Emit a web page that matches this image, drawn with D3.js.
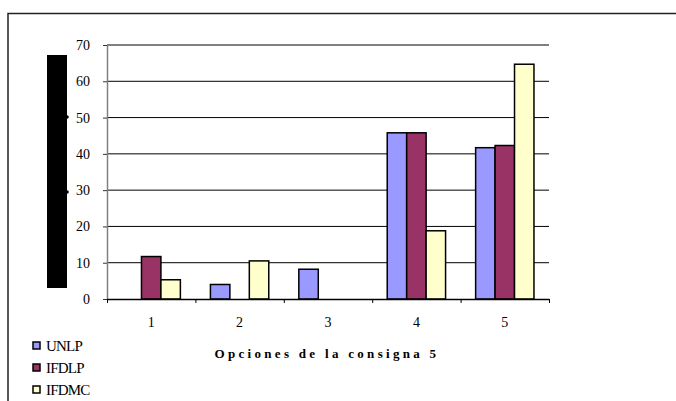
<!DOCTYPE html>
<html>
<head>
<meta charset="utf-8">
<script src="https://cdn.jsdelivr.net/npm/d3@7"></script>
<style>
  body { margin: 0; background: #fff; }
  svg { display: block; }
  svg text { font-family: "Liberation Serif", "Times New Roman", serif; }
</style>
</head>
<body>
<svg></svg>
<script>
const categories = ["1", "2", "3", "4", "5"];
const series = ["UNLP", "IFDLP", "IFDMC"];
const colors = ["#9999ff", "#993366", "#ffffcc"];
const unlp = [0, 4, 8.2, 45.8, 41.7];
const ifdlp = [11.7, 0, 0, 45.8, 42.3];
const ifdmc = [5.3, 10.5, 0, 18.8, 64.7];
const yTicks = [0, 10, 20, 30, 40, 50, 60, 70];
const xTitle = "Opciones de la consigna 5";

const width = 676;
const height = 401;
const plotLeft = 107, plotRight = 549, plotTop = 45, plotBottom = 299;
const serif = '"Liberation Serif", "Times New Roman", serif';

let svg = d3.select("svg").attr("width", width).attr("height", height);

// outer frame (only left + top visible, the rest runs off the picture)
svg.append("rect")
  .attr("x", 8).attr("y", 13.5)
  .attr("width", 700).attr("height", 420)
  .attr("fill", "none").attr("stroke", "#222").attr("stroke-width", 1.5);

// black block where the y title sits
svg.append("rect")
  .attr("x", 47).attr("y", 55).attr("width", 20).attr("height", 233)
  .attr("fill", "#000");
svg.append("circle").attr("cx", 67).attr("cy", 117).attr("r", 1.8).attr("fill", "#000");
svg.append("circle").attr("cx", 67).attr("cy", 192).attr("r", 1.8).attr("fill", "#000");

const y = d3.scaleLinear().domain([0, 70]).range([plotBottom, plotTop]);
const x = d3.scaleBand().domain(categories).range([plotLeft, plotRight])
  .paddingInner(0.34).paddingOuter(0.17);
const xSub = d3.scaleBand().domain(series).range([0, x.bandwidth()]);
const xEdge = d3.scaleLinear().domain([0, categories.length]).range([plotLeft, plotRight]);

// gridlines
svg.append("g")
  .selectAll("line")
  .data(yTicks.filter((d) => d > 0))
  .enter()
  .append("line")
  .attr("x1", plotLeft).attr("x2", plotRight)
  .attr("y1", (d) => y(d)).attr("y2", (d) => y(d))
  .attr("stroke", "#000").attr("stroke-width", 1);

// y axis
let yAxis = svg.append("g")
  .attr("transform", "translate(" + plotLeft + ",0)")
  .call(d3.axisLeft(y).tickValues(yTicks).tickSize(4).tickPadding(13).tickSizeOuter(0))
  .attr("font-family", serif)
  .attr("font-size", 14);
yAxis.select(".domain").attr("stroke", "#808080").attr("stroke-width", 1.5);
yAxis.selectAll(".tick line").attr("stroke", "#333");
yAxis.selectAll("text").attr("fill", "#000");

// bars
const values = [unlp, ifdlp, ifdmc];
let groups = svg.append("g")
  .selectAll("g")
  .data(categories)
  .enter()
  .append("g")
  .attr("transform", (d) => "translate(" + x(d) + ",0)");

groups.selectAll("rect")
  .data((d, i) => series.map((s, j) => ({ s: s, j: j, v: values[j][i] })).filter((e) => e.v > 0))
  .enter()
  .append("rect")
  .attr("x", (d) => xSub(d.s))
  .attr("width", xSub.bandwidth())
  .attr("y", (d) => y(d.v))
  .attr("height", (d) => y(0) - y(d.v))
  .attr("fill", (d) => colors[d.j])
  .attr("stroke", "#000")
  .attr("stroke-width", 1.5);

// x axis: boundary ticks
let xAxis = svg.append("g")
  .attr("transform", "translate(0," + plotBottom + ")")
  .call(d3.axisBottom(xEdge).ticks(categories.length).tickSize(4).tickSizeOuter(0).tickFormat(""));
xAxis.select(".domain").attr("stroke", "#000").attr("stroke-width", 1.5);
xAxis.selectAll(".tick line").attr("stroke", "#000");

// x labels
let xLab = svg.append("g")
  .attr("transform", "translate(0," + plotBottom + ")")
  .call(d3.axisBottom(x).tickSize(0).tickPadding(18))
  .attr("font-family", serif)
  .attr("font-size", 14);
xLab.select(".domain").remove();
xLab.selectAll("text").attr("fill", "#000");

// x title
svg.append("text")
  .attr("x", 327).attr("y", 358)
  .attr("text-anchor", "middle")
  .attr("font-size", 13).attr("font-weight", "bold")
  .attr("letter-spacing", 3.3)
  .text(xTitle);

// legend
let legend = svg.append("g")
  .selectAll("g")
  .data(series)
  .enter()
  .append("g")
  .attr("transform", (d, i) => "translate(33," + (342 + i * 22) + ")");
legend.append("rect")
  .attr("width", 7).attr("height", 7)
  .attr("fill", (d, i) => colors[i])
  .attr("stroke", "#000").attr("stroke-width", 1.5);
legend.append("text")
  .attr("x", 13).attr("y", 9)
  .attr("font-size", 15)
  .attr("letter-spacing", -0.8)
  .text((d) => d);
</script>
</body>
</html>
